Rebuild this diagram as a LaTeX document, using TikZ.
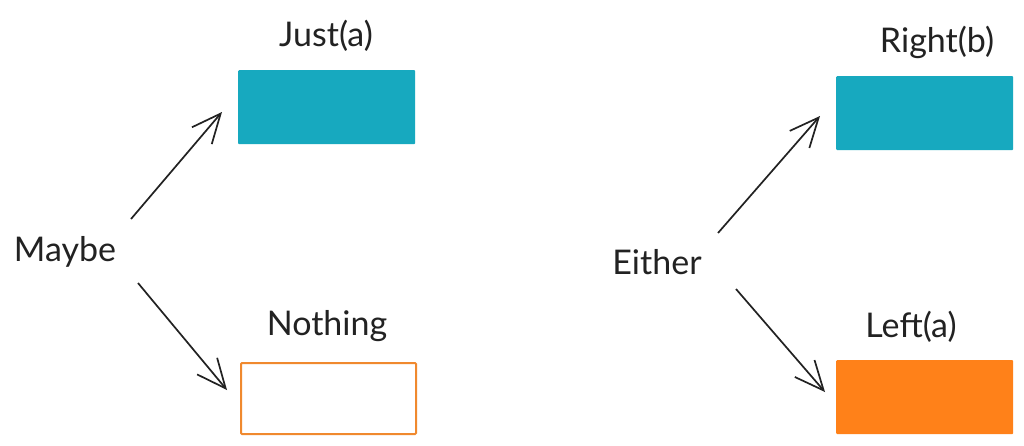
\documentclass[tikz,border=0pt]{standalone}
\usepackage{fontspec}
\setmainfont{Lato}
\usetikzlibrary{arrows.meta}
\definecolor{teal}{HTML}{17A9BF}
\definecolor{orfill}{HTML}{FF8119}
\definecolor{orline}{HTML}{F0892E}
\definecolor{ink}{HTML}{222222}
\tikzset{
  box/.style={minimum width=177pt,minimum height=74pt,inner sep=0pt,rounded corners=1pt,anchor=north west},
  tealbox/.style={box,fill=teal},
  hollowbox/.style={box,draw=orline,line width=2pt,fill=white,minimum width=175pt,minimum height=71pt},
  orbox/.style={box,fill=orfill},
  lbl/.style={text=ink,font=\fontsize{34}{40}\selectfont,inner sep=0pt},
  conn/.style={draw=ink,line width=1.7pt,-{Straight Barb[length=29pt,width=26pt,line width=1.7pt]}}
}
\begin{document}
\begin{tikzpicture}[x=1pt,y=-1pt]
\useasboundingbox (0,0) rectangle (1024,445);
\fill[white] (0,0) rectangle (1024,445);
% left
\node[tealbox] (just) at (238,70) {};
\node[hollowbox] (nothing) at (240,362) {};
\node[lbl] (justl) at (326,36) {Just(a)};
\node[lbl] (nothingl) at (327,326) {Nothing};
\node[lbl] (maybe) at (65,252) {Maybe};
% right
\node[tealbox] (right) at (836,76) {};
\node[orbox] (left) at (836,360) {};
\node[lbl] (rightl) at (937,42) {Right(b)};
\node[lbl] (leftl) at (911,327) {Left(a)};
\node[lbl] (either) at (657,262) {Either};
% arrow ends
\coordinate (m1) at (131,219);
\coordinate (j1) at (222,112);
\coordinate (m2) at (138,283);
\coordinate (n1) at (227,390);
\coordinate (e1) at (718,233);
\coordinate (r1) at (820,116);
\coordinate (e2) at (736,289);
\coordinate (l1) at (825,392);
\draw[conn] (m1) -- (j1);
\draw[conn] (m2) -- (n1);
\draw[conn] (e1) -- (r1);
\draw[conn] (e2) -- (l1);
\end{tikzpicture}
\end{document}
